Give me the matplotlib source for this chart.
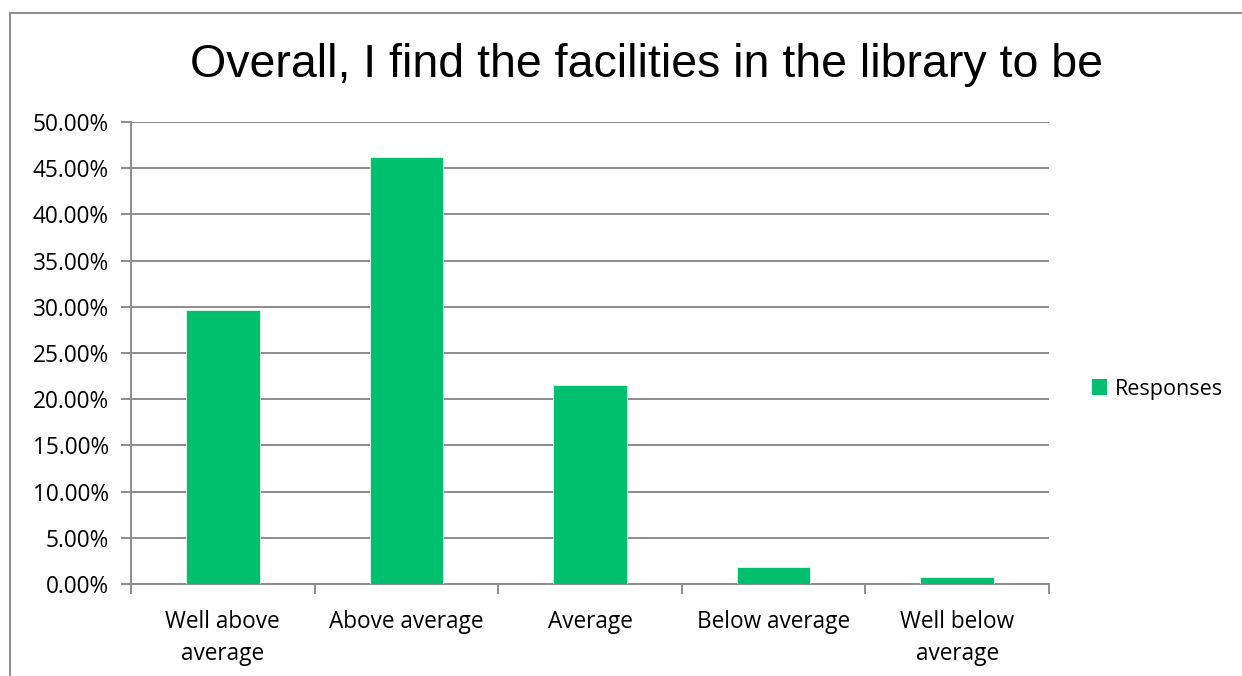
import matplotlib
matplotlib.use("Agg")
import matplotlib.pyplot as plt
from matplotlib.lines import Line2D
from matplotlib.patches import Patch
from matplotlib.ticker import MultipleLocator, FuncFormatter

categories = ["Well above\naverage", "Above average", "Average", "Below average", "Well below\naverage"]
responses = [29.66, 46.21, 21.52, 1.87, 0.74]
series_name = "Responses"
title = "Overall, I find the facilities in the library to be"

W, H = 1242, 676
fig = plt.figure(figsize=(W / 100, H / 100), dpi=100)
fig.patch.set_facecolor("white")

label_font = ["Open Sans", "DejaVu Sans"]
title_font = ["Liberation Sans", "DejaVu Sans"]
grid_color = "#8c8c8c"
bar_color = "#00bf6f"
label_size = 16.3

ax = fig.add_axes([131 / W, 1 - 584 / H, (1049 - 131) / W, (584 - 122) / H])
x = list(range(len(categories)))
ax.bar(x, responses, width=0.4, color=bar_color, edgecolor="#e6f7ee", linewidth=0.6, zorder=3)

ax.set_xlim(-0.5, len(categories) - 0.5)
ax.set_ylim(0, 50)
ax.yaxis.set_major_locator(MultipleLocator(5))
ax.yaxis.set_major_formatter(FuncFormatter(lambda v, _: f"{v:.2f}%"))
ax.grid(axis="y", color=grid_color, linewidth=1.4, zorder=0)
ax.set_axisbelow(True)

for side in ("top", "right"):
    ax.spines[side].set_visible(False)
for side in ("left", "bottom"):
    ax.spines[side].set_color(grid_color)
    ax.spines[side].set_linewidth(1.4)

# category labels centred under bars, tick marks between categories
ax.set_xticks([i - 0.5 for i in range(len(categories) + 1)])
ax.set_xticklabels([])
ax.set_xticks(x, minor=True)
ax.set_xticklabels(categories, minor=True, fontsize=label_size, family=label_font,
                   linespacing=1.45, va="top")
ax.tick_params(axis="x", which="major", length=7, width=1.4, color=grid_color, direction="out")
ax.tick_params(axis="x", which="minor", length=0, pad=19)
ax.tick_params(axis="y", length=7, width=1.4, color=grid_color, direction="out", pad=9)
for lbl in ax.get_yticklabels():
    lbl.set_fontsize(label_size)
    lbl.set_family(label_font)

fig.text(647 / W, 1 - 65 / H, title, ha="center", va="center",
         fontsize=33.5, family=title_font, color="black")

# legend entry
leg = fig.legend(handles=[Patch(facecolor=bar_color, edgecolor="none", label=series_name)],
                 loc="center left", bbox_to_anchor=(1073 / W, 1 - 389 / H),
                 frameon=False, prop={"family": label_font, "size": 15.5},
                 handlelength=0.7, handleheight=0.7, handletextpad=0.35)

# outer chart border
fig.add_artist(Line2D([10 / W, 10 / W], [0, 1 - 13 / H], transform=fig.transFigure,
                      color="#8c8c8c", linewidth=1.4))
fig.add_artist(Line2D([10 / W, 1], [1 - 13 / H, 1 - 13 / H], transform=fig.transFigure,
                      color="#8c8c8c", linewidth=1.4))

fig.savefig("out.png", dpi=100)
